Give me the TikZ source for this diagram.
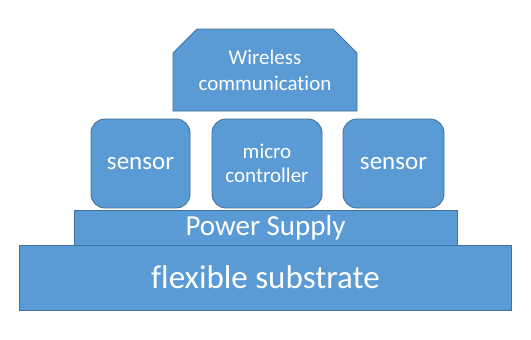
\documentclass[tikz,border=0pt]{standalone}
\usepackage{fontspec}
\setmainfont{Carlito}[Ligatures=NoCommon]
\usepackage{xcolor}
\usetikzlibrary{shapes.misc}
\definecolor{layerfill}{HTML}{5B9BD5}
\definecolor{layerline}{HTML}{41719C}

\begin{document}
\begin{tikzpicture}[x=1pt, y=-1pt,
    layer/.style={draw=layerline, fill=layerfill, line width=0.9pt, text=white,
        inner sep=0pt, align=center},
    block/.style={layer, rounded corners=14pt, minimum height=89pt}]
    \useasboundingbox (0,0) rectangle (531,340);
    % base layers
    \node[layer, minimum width=492pt, minimum height=65pt, font=\fontsize{33}{38}\selectfont]
        (substrate) at (265.5,277.5) {flexible substrate};
    \node[layer, minimum width=383pt, minimum height=35pt, font=\fontsize{29}{34}\selectfont]
        (power) at (265.5,227.5) {Power Supply};
    % components
    \node[block, minimum width=99pt, font=\fontsize{25}{30}\selectfont]
        (sensorL) at (140.5,163.5) {sensor};
    \node[block, minimum width=110pt, font=\fontsize{21}{24}\selectfont]
        (mcu) at (267,163.5) {micro\\controller};
    \node[block, minimum width=101pt, font=\fontsize{25}{30}\selectfont]
        (sensorR) at (393.5,163.5) {sensor};
    % radio on top
    \node[layer, chamfered rectangle, chamfered rectangle corners={north west, north east},
        chamfered rectangle xsep=11pt, chamfered rectangle ysep=13pt,
        minimum width=184pt, minimum height=82pt, font=\fontsize{21}{26}\selectfont]
        (wireless) at (265,70) {Wireless\\communication};
\end{tikzpicture}
\end{document}
